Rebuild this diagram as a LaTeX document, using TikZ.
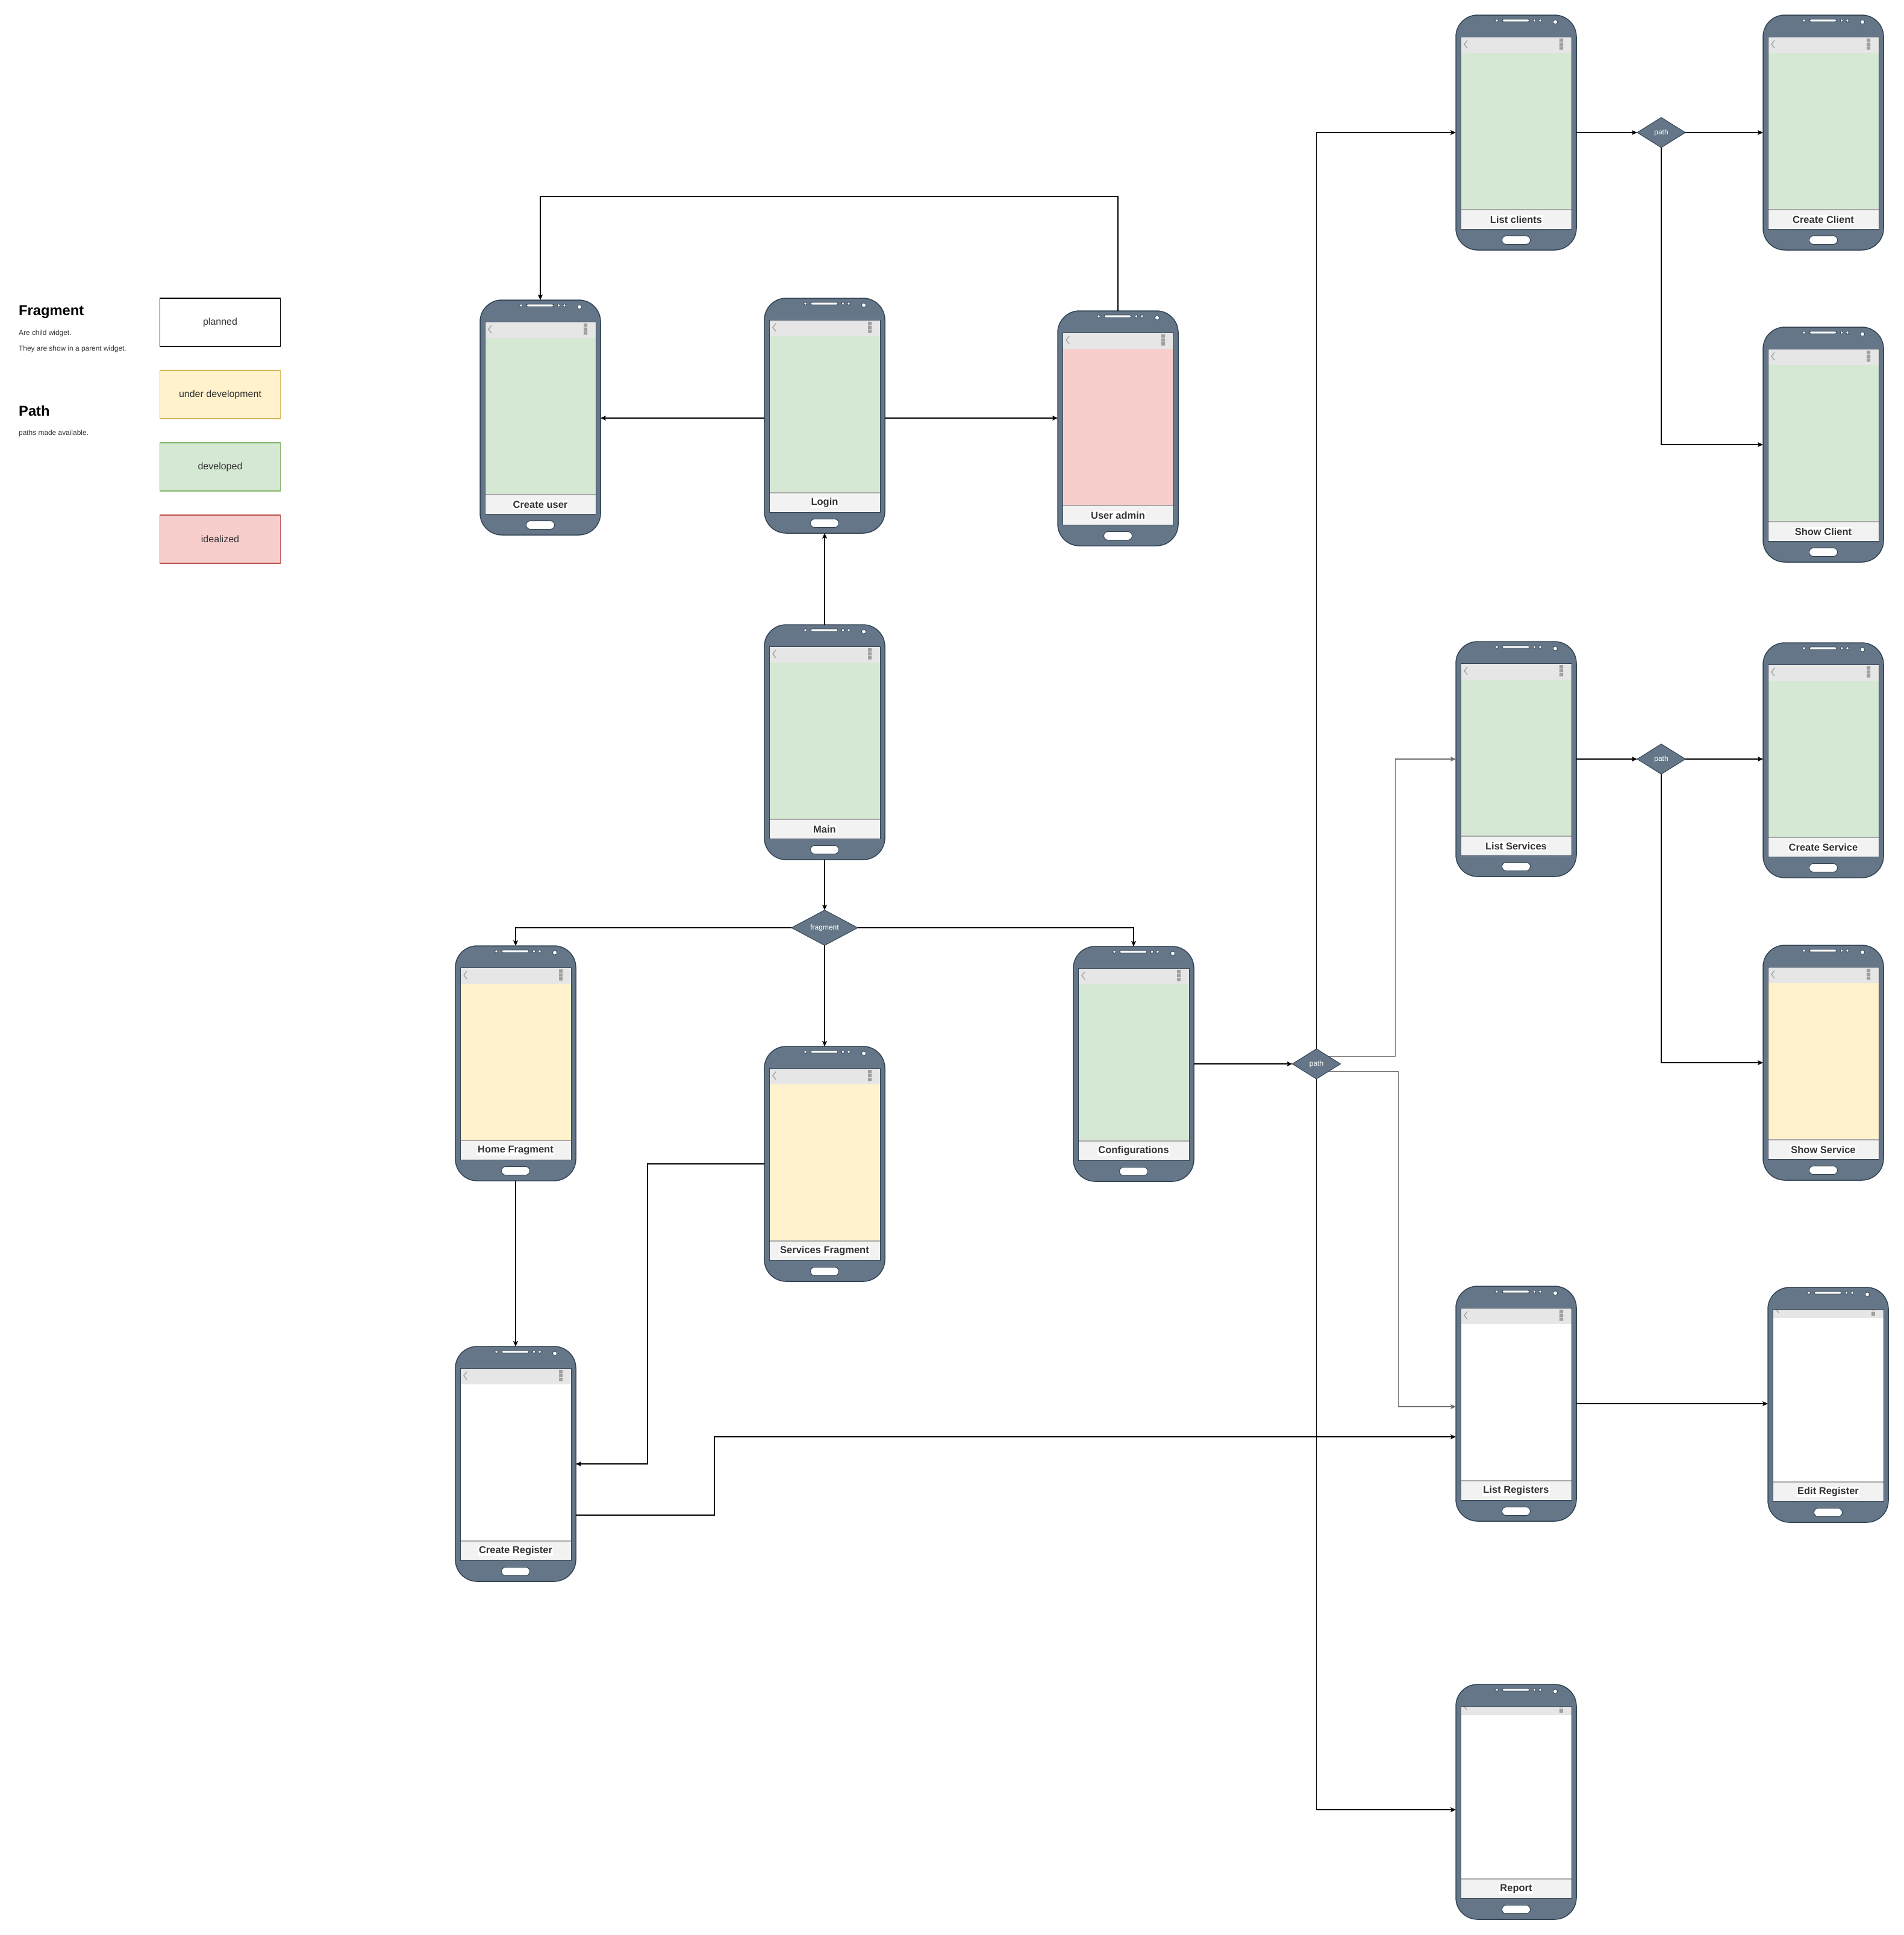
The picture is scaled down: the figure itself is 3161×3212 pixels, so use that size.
\documentclass[tikz,border=0pt]{standalone}
\usepackage{fontspec}
\setmainfont{Liberation Sans}
\usetikzlibrary{arrows.meta,shapes.geometric,calc}

\definecolor{phonefill}{HTML}{647687}
\definecolor{phoneedge}{HTML}{314354}
\definecolor{devgreen}{HTML}{D5E8D4}
\definecolor{devgreenedge}{HTML}{82B366}
\definecolor{wipyellow}{HTML}{FFF2CC}
\definecolor{wipyellowedge}{HTML}{D6B656}
\definecolor{ideared}{HTML}{F8CECC}
\definecolor{idearededge}{HTML}{B85450}
\definecolor{barfill}{HTML}{E6E6E6}
\definecolor{labelfill}{HTML}{F2F2F2}
\definecolor{labelline}{HTML}{A8A8A8}
\definecolor{textgrey}{HTML}{333333}
\definecolor{iconfill}{HTML}{A0A0A0}
\definecolor{linkgrey}{HTML}{6E6E6E}

\tikzset{
  phone/.style={rectangle, rounded corners=36pt, minimum width=200pt, minimum height=390pt,
    fill=phonefill, draw=phoneedge, line width=1.5pt, inner sep=0pt, outer sep=0pt},
  phonetitle/.style={font=\fontsize{16.5}{18}\selectfont\bfseries, text=textgrey, fill=white, inner sep=1pt},
  decision/.style={diamond, fill=phonefill, draw=phoneedge, line width=1pt, inner sep=0pt,
    outer sep=0pt, text=white, font=\fontsize{12}{14}\selectfont},
  link/.style={line width=1.2pt, -{Stealth[length=9pt,width=8pt,inset=2pt]}},
  softlink/.style={link, draw=linkgrey},
  legendbox/.style={rectangle, minimum width=200pt, minimum height=80pt, line width=1.5pt,
    inner sep=0pt, text=textgrey, font=\fontsize{16}{18}\selectfont},
  heading/.style={anchor=base west, inner sep=0pt, font=\fontsize{23.7}{26}\selectfont\bfseries},
  note/.style={anchor=base west, inner sep=0pt, text=textgrey, font=\fontsize{11.9}{14}\selectfont},
}

% action bar with back chevron and overflow menu
\newcommand{\fullbar}{%
  \fill[barfill] (8,-36) rectangle (192,-63);
  \draw[iconfill, line width=1.3pt] (19,-42) -- (14,-48.5) -- (19,-55);
  \fill[iconfill] (172,-39) rectangle (178,-44.5) (172,-45.5) rectangle (178,-51) (172,-52) rectangle (178,-57.5);
}
% slim status bar
\newcommand{\thinbar}{%
  \fill[barfill] (8,-36) rectangle (192,-51);
  \draw[iconfill, line width=1.3pt] (14,-37) -- (18,-42);
  \fill[iconfill] (172,-41) rectangle (178,-47);
  \fill[iconfill!50] (172,-37) rectangle (178,-39.5);
}

% #1 name, #2 left x, #3 top y, #4 screen colour, #5 title, #6 bar
\newcommand{\handset}[6]{%
  \node[phone] (#1) at (#2+100,-#3-195) {};
  \begin{scope}[shift={(#1.north west)}]
    \fill[#4] (8,-36) rectangle (192,-355);
    #6
    \fill[labelfill] (8,-323) rectangle (192,-355);
    \draw[labelline, line width=1.5pt] (8,-323) -- (192,-323);
    \draw[phoneedge, line width=1pt] (8,-36) rectangle (192,-355);
    \node[phonetitle] (#1-title) at (100,-339.5) {#5};
    \draw[phoneedge, fill=white, line width=1pt, rounded corners=7pt] (76.5,-366.5) rectangle (123.5,-380.5);
    \draw[phoneedge, fill=white, line width=0.8pt, rounded corners=2pt] (77,-7) rectangle (122,-11);
    \draw[phoneedge, fill=white, line width=0.8pt]
      (68,-9) circle (2.3pt) (130.5,-9) circle (2.3pt) (140,-9) circle (2.3pt) (165,-11.5) circle (3.6pt);
  \end{scope}
}

\begin{document}
\begin{tikzpicture}[x=1pt, y=1pt]
\fill[white] (0,0) rectangle (3161,-3212);
\useasboundingbox (0,0) rectangle (3161,-3212);

% legend
\node[heading] (fraghead) at (31,-523) {Fragment};
\node[note] (fragnote1) at (31,-556) {Are child widget.};
\node[note] (fragnote2) at (31,-582) {They are show in a parent widget.};
\node[heading] (pathhead) at (31,-690) {Path};
\node[note] (pathnote) at (31,-722) {paths made available.};

\node[legendbox, draw=black, fill=white] (planned) at (365.5,-535) {planned};
\node[legendbox, draw=wipyellowedge, fill=wipyellow] (wip) at (365.5,-655) {under development};
\node[legendbox, draw=devgreenedge, fill=devgreen] (done) at (365.5,-775) {developed};
\node[legendbox, draw=idearededge, fill=ideared] (idea) at (365.5,-895) {idealized};

% screens
\handset{cuser}{797}{498}{devgreen}{Create user}{\fullbar}
\handset{login}{1269}{495}{devgreen}{Login}{\fullbar}
\handset{admin}{1756}{516}{ideared}{User admin}{\fullbar}
\handset{main}{1269}{1037}{devgreen}{Main}{\fullbar}
\handset{home}{756}{1570}{wipyellow}{Home Fragment}{\fullbar}
\handset{services}{1269}{1737}{wipyellow}{Services Fragment}{\fullbar}
\handset{config}{1782}{1571}{devgreen}{Configurations}{\fullbar}
\handset{creg}{756}{2235}{white}{Create Register}{\fullbar}
\handset{lclients}{2417}{25}{devgreen}{List clients}{\fullbar}
\handset{cclient}{2927}{25}{devgreen}{Create Client}{\fullbar}
\handset{sclient}{2927}{543}{devgreen}{Show Client}{\fullbar}
\handset{lservices}{2417}{1065}{devgreen}{List Services}{\fullbar}
\handset{cservice}{2927}{1067}{devgreen}{Create Service}{\fullbar}
\handset{sservice}{2927}{1569}{wipyellow}{Show Service}{\fullbar}
\handset{lreg}{2417}{2135}{white}{List Registers}{\fullbar}
\handset{ereg}{2935}{2137}{white}{Edit Register}{\thinbar}
\handset{report}{2417}{2796}{white}{Report}{\thinbar}

% decisions
\node[decision, minimum width=110pt, minimum height=50pt] (frag) at (1369,-1540) {fragment};
\node[decision, minimum width=80pt, minimum height=50pt] (route) at (2185.5,-1766) {path};
\node[decision, minimum width=80pt, minimum height=50pt] (clientpath) at (2758,-220) {path};
\node[decision, minimum width=80pt, minimum height=50pt] (servicepath) at (2758,-1260) {path};

% connectors
\coordinate (adminbend) at (0,-326);
\draw[link] ([yshift=-4pt]login.west) -- ([yshift=-4pt]login.west -| cuser.east);
\draw[link] ([yshift=-4pt]login.east) -- ([yshift=-4pt]login.east -| admin.west);
\draw[link] (admin.north) -- (admin.north |- adminbend) -| (cuser.north);
\draw[link] (main.north) -- (login.south);
\draw[link] (main.south) -- (frag.north);
\draw[link] (frag.west) -| (home.north);
\draw[link] (frag.east) -| (config.north);
\draw[link] (frag.south) -- (services.north);
\draw[link] (home.south) -- (creg.north);
\draw[link] (services.west) -- ++(-194,0) |- (creg.east);
\draw[link] ([yshift=-85pt]creg.east) -- ++(230,0) |- ([yshift=-55pt]lreg.west);

\draw[link] (config.east) -- (route.west);
\draw[link] (route.north) |- (lclients.west);
\draw[link] (route.south) |- ([yshift=-13pt]report.west);
\draw[softlink] (route.north east) -- ++(111,0) |- (lservices.west);
\draw[softlink] (route.south east) -- ++(116,0) |- ([yshift=-5pt]lreg.west);

\draw[link] (lclients.east) -- (clientpath.west);
\draw[link] (clientpath.east) -- (cclient.west);
\draw[link] (clientpath.south) |- (sclient.west);
\draw[link] (lservices.east) -- (servicepath.west);
\draw[link] (servicepath.east) -- (servicepath.east -| cservice.west);
\draw[link] (servicepath.south) |- (sservice.west);
\draw[link] (lreg.east) -- (lreg.east -| ereg.west);
\end{tikzpicture}
\end{document}
